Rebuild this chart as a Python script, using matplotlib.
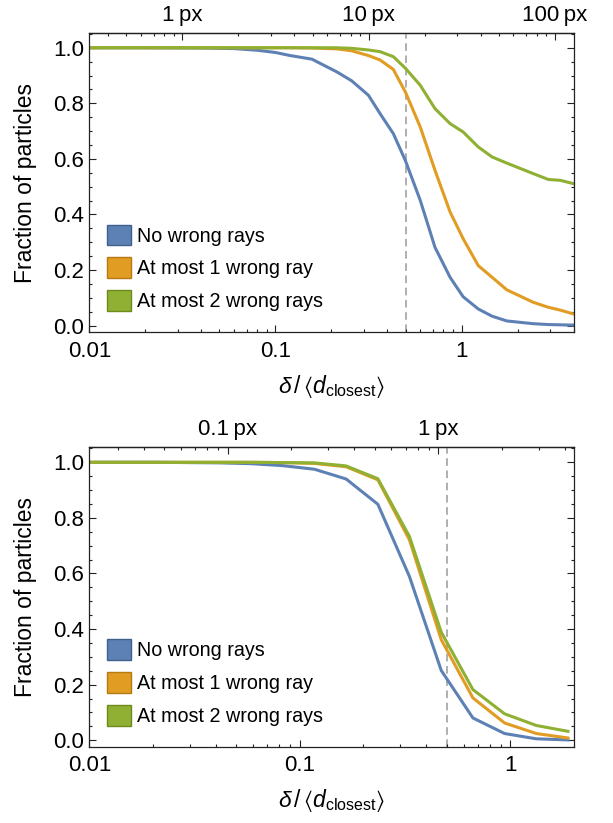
import matplotlib
matplotlib.use("Agg")
import matplotlib.pyplot as plt
from matplotlib.patches import Patch
from matplotlib.ticker import FixedLocator, LogLocator, MultipleLocator, NullFormatter

plt.rcParams['font.family'] = ['Liberation Sans', 'DejaVu Sans']
plt.rcParams['mathtext.fontset'] = 'custom'
plt.rcParams['mathtext.rm'] = 'Liberation Sans'
plt.rcParams['mathtext.it'] = 'Liberation Sans:italic'
plt.rcParams['mathtext.fallback'] = 'stixsans'

# series names and colours (Mathematica default palette)
labels = ["No wrong rays", "At most 1 wrong ray", "At most 2 wrong rays"]
colors = ["#5E81B5", "#E19C24", "#8FB032"]
edges = ["#3F5F8F", "#B57A12", "#6C8A1E"]

# ---- top panel: delta/<d_closest>, fraction of particles
top_x = [0.01, 0.02, 0.04, 0.06, 0.08, 0.1, 0.12, 0.157, 0.214, 0.257, 0.316,
         0.365, 0.43, 0.5, 0.6, 0.72, 0.868, 1.02, 1.23, 1.46, 1.75, 2.43,
         2.93, 3.39, 4.0]
top_none = [1.0, 1.0, 0.999, 0.997, 0.991, 0.983, 0.972, 0.959, 0.913, 0.881,
            0.829, 0.763, 0.691, 0.593, 0.451, 0.282, 0.174, 0.104, 0.06,
            0.034, 0.017, 0.007, 0.004, 0.003, 0.002]
top_one = [1.0, 1.0, 1.0, 1.0, 1.0, 1.0, 1.0, 0.999, 0.996, 0.989, 0.972,
           0.956, 0.922, 0.84, 0.715, 0.559, 0.409, 0.313, 0.216, 0.174,
           0.129, 0.084, 0.066, 0.056, 0.042]
top_two = [1.0, 1.0, 1.0, 1.0, 1.0, 1.0, 1.0, 1.0, 1.0, 0.998, 0.992, 0.986,
           0.968, 0.926, 0.865, 0.781, 0.727, 0.697, 0.643, 0.607, 0.585,
           0.547, 0.526, 0.523, 0.511]
top_px_per_unit = 31.6
top_px_ticks = [1, 10, 100]

# ---- bottom panel
bot_x = [0.01, 0.0208, 0.0294, 0.0416, 0.0588, 0.083, 0.1175, 0.166, 0.235,
         0.332, 0.47, 0.665, 0.94, 1.33, 1.88]
bot_none = [1.0, 1.0, 0.999, 0.998, 0.995, 0.988, 0.975, 0.94, 0.849, 0.589,
            0.251, 0.08, 0.024, 0.005, 0.001]
bot_one = [1.0, 1.0, 1.0, 1.0, 1.0, 0.999, 0.996, 0.984, 0.937, 0.721, 0.362,
           0.152, 0.062, 0.024, 0.008]
bot_two = [1.0, 1.0, 1.0, 1.0, 1.0, 0.999, 0.998, 0.987, 0.941, 0.733, 0.389,
           0.182, 0.095, 0.053, 0.032]
bot_px_per_unit = 2.2
bot_px_ticks = [0.1, 1]

y_ticks = [0.0, 0.2, 0.4, 0.6, 0.8, 1.0]
x_ticks = [0.01, 0.1, 1]
x_ticklabels = ["0.01", "0.1", "1"]

fig = plt.figure(figsize=(6.13, 8.23), dpi=100)
ax_top = fig.add_axes([0.1457, 0.5962, 0.790, 0.364])
ax_bot = fig.add_axes([0.1457, 0.0925, 0.790, 0.364])


def px_label(v):
    if v >= 1:
        return "%d\u2009px" % v
    return "%g\u2009px" % v


def draw_panel(ax, xs, series, xlim, k, px_ticks):
    for ys, c, lab in zip(series, colors, labels):
        ax.plot(xs, ys, color=c, lw=2.2, label=lab, solid_joinstyle='round')
    ax.axvline(0.5, color='#9a9a9a', lw=1.1, dashes=(5, 3), zorder=1)
    ax.set_xscale('log')
    ax.set_xlim(xlim)
    ax.set_ylim(-0.024, 1.054)

    ax.xaxis.set_major_locator(FixedLocator(x_ticks))
    ax.set_xticklabels(x_ticklabels)
    ax.xaxis.set_minor_locator(LogLocator(base=10, subs=range(2, 10)))
    ax.xaxis.set_minor_formatter(NullFormatter())
    ax.yaxis.set_major_locator(FixedLocator(y_ticks))
    ax.set_yticklabels(["%.1f" % t for t in y_ticks])
    ax.yaxis.set_minor_locator(MultipleLocator(0.05))

    ax.tick_params(which='both', direction='in', colors='#222222',
                   labelcolor='black', width=0.8, labelsize=16,
                   top=False, right=True)
    ax.tick_params(which='major', length=5)
    ax.tick_params(which='minor', length=2.5)
    ax.tick_params(axis='x', pad=6)
    ax.tick_params(axis='y', pad=4)
    for s in ax.spines.values():
        s.set_color('#222222')
        s.set_linewidth(0.9)

    sec = ax.secondary_xaxis('top', functions=(lambda x: x * k, lambda p: p / k))
    sec.xaxis.set_major_locator(FixedLocator(px_ticks))
    sec.set_xticklabels([px_label(p) for p in px_ticks])
    sec.xaxis.set_minor_locator(LogLocator(base=10, subs=range(2, 10)))
    sec.xaxis.set_minor_formatter(NullFormatter())
    sec.tick_params(which='both', direction='in', colors='#222222',
                    labelcolor='black', width=0.8, labelsize=16, pad=5)
    sec.tick_params(which='major', length=5)
    sec.tick_params(which='minor', length=2.5)
    sec.spines['top'].set_color('#222222')
    sec.spines['top'].set_linewidth(0.9)

    ax.set_ylabel("Fraction of particles", fontsize=16.5)
    ax.yaxis.set_label_coords(-0.108, 0.5)
    ax.set_xlabel(r'$\delta\,/\,\langle d_{\mathrm{closest}}\rangle$',
                  fontsize=16.5, labelpad=8)

    handles = [Patch(facecolor=c, edgecolor=e, linewidth=1.0)
               for c, e in zip(colors, edges)]
    ax.legend(handles, labels, loc='lower left', bbox_to_anchor=(0.036, 0.07),
              frameon=False, fontsize=14.2, handlelength=1.25,
              handleheight=1.25, handletextpad=0.3, labelspacing=0.6,
              borderpad=0, borderaxespad=0)


draw_panel(ax_top, top_x, [top_none, top_one, top_two], (0.01, 4.0),
           top_px_per_unit, top_px_ticks)
draw_panel(ax_bot, bot_x, [bot_none, bot_one, bot_two], (0.01, 2.0),
           bot_px_per_unit, bot_px_ticks)

fig.savefig("out.png", dpi=100)
